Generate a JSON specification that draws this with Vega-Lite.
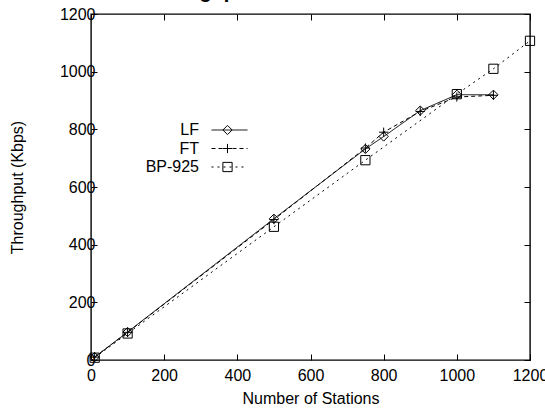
{
  "$schema": "https://vega.github.io/schema/vega-lite/v6.json",
  "width": 439,
  "height": 346,
  "autosize": {"type": "none"},
  "padding": {"left": 91, "top": 14, "right": 15, "bottom": 49},
  "background": "white",
  "title": {"text": "Throughput vs. Number of Stations", "font": "Liberation Sans", "fontSize": 20, "fontWeight": "bold", "baseline": "alphabetic", "offset": -12, "anchor": "middle", "color": "black"},
  "config": {
    "view": {"stroke": "black", "strokeWidth": 1.4},
    "font": "Liberation Sans",
    "axis": {"domain": false, "grid": false, "tickColor": "black", "tickSize": -6, "tickWidth": 1, "labelFont": "Liberation Sans", "labelFontSize": 16, "labelColor": "black", "labelFlush": false, "titleFont": "Liberation Sans", "titleFontSize": 16, "titleFontWeight": "normal", "titleColor": "black", "format": "d"},
    "legend": {"labelFont": "Liberation Sans", "labelFontSize": 16, "labelColor": "black"}
  },
  "data": {"values": [
    {"series": "LF", "marker": "LF*", "x": 10, "y": 10},
    {"series": "LF", "marker": "LF*", "x": 100, "y": 97},
    {"series": "LF", "marker": "LF*", "x": 500, "y": 490},
    {"series": "LF", "marker": "LF*", "x": 750, "y": 732},
    {"series": "LF", "marker": "LF*", "x": 800, "y": 775},
    {"series": "LF", "marker": "LF*", "x": 900, "y": 865},
    {"series": "LF", "marker": "LF*", "x": 1000, "y": 920},
    {"series": "LF", "marker": "LF*", "x": 1100, "y": 920},
    {"series": "FT", "marker": "FT*", "x": 10, "y": 10},
    {"series": "FT", "marker": "FT*", "x": 100, "y": 96},
    {"series": "FT", "marker": "FT*", "x": 500, "y": 487},
    {"series": "FT", "marker": "FT*", "x": 750, "y": 735},
    {"series": "FT", "marker": "FT*", "x": 800, "y": 790},
    {"series": "FT", "marker": "FT*", "x": 900, "y": 862},
    {"series": "FT", "marker": "FT*", "x": 1000, "y": 912},
    {"series": "FT", "marker": "FT*", "x": 1100, "y": 918},
    {"series": "BP-925", "marker": "BP-925*", "x": 10, "y": 8},
    {"series": "BP-925", "marker": "BP-925*", "x": 100, "y": 92},
    {"series": "BP-925", "marker": "BP-925*", "x": 500, "y": 462},
    {"series": "BP-925", "marker": "BP-925*", "x": 750, "y": 693},
    {"series": "BP-925", "marker": "BP-925*", "x": 1000, "y": 922},
    {"series": "BP-925", "marker": "BP-925*", "x": 1100, "y": 1010},
    {"series": "BP-925", "marker": "BP-925*", "x": 1200, "y": 1107}
  ]},
  "layer": [
    {
      "mark": {"type": "line", "color": "black", "strokeWidth": 1},
      "encoding": {
        "x": {"field": "x", "type": "quantitative", "scale": {"domain": [0, 1200], "nice": false},
              "axis": {"orient": "bottom", "values": [0, 200, 400, 600, 800, 1000, 1200], "title": "Number of Stations", "labelPadding": 13, "titlePadding": 7}},
        "y": {"field": "y", "type": "quantitative", "scale": {"domain": [0, 1200], "nice": false},
              "axis": {"orient": "left", "values": [0, 200, 400, 600, 800, 1000, 1200], "title": "Throughput (Kbps)", "labelPadding": 2, "titlePadding": 34}},
        "strokeDash": {"field": "series", "type": "nominal",
          "scale": {"domain": ["LF", "FT", "BP-925"], "range": [[1, 0], [4, 3], [2, 4]]},
          "legend": {"orient": "none", "legendX": 130.5, "legendY": 108, "title": null, "symbolType": "M-6,0L6,0", "symbolSize": 36, "symbolStrokeWidth": 1, "symbolStrokeColor": "black", "labelAlign": "right", "labelOffset": -38.5, "rowPadding": 2.5}}
      }
    },
    {
      "mark": {"type": "point", "filled": false, "color": "black", "strokeWidth": 1, "size": 85, "opacity": 1},
      "encoding": {
        "x": {"field": "x", "type": "quantitative", "scale": {"domain": [0, 1200], "nice": false},
              "axis": {"orient": "top", "values": [0, 200, 400, 600, 800, 1000, 1200], "labels": false, "title": null}},
        "y": {"field": "y", "type": "quantitative", "scale": {"domain": [0, 1200], "nice": false},
              "axis": {"orient": "right", "values": [0, 200, 400, 600, 800, 1000, 1200], "labels": false, "title": null}},
        "shape": {"field": "marker", "type": "nominal",
          "scale": {"domain": ["LF*", "FT*", "BP-925*"], "range": ["diamond", "M-1,0L1,0M0,-1L0,1", "square"]},
          "legend": {"orient": "none", "legendX": 128.5, "legendY": 108, "title": null, "symbolSize": 85, "symbolStrokeWidth": 1, "symbolStrokeColor": "black", "symbolFillColor": "white", "labelOpacity": 0, "rowPadding": 2.5}}
      }
    }
  ],
  "resolve": {"axis": {"x": "independent", "y": "independent"}}
}
